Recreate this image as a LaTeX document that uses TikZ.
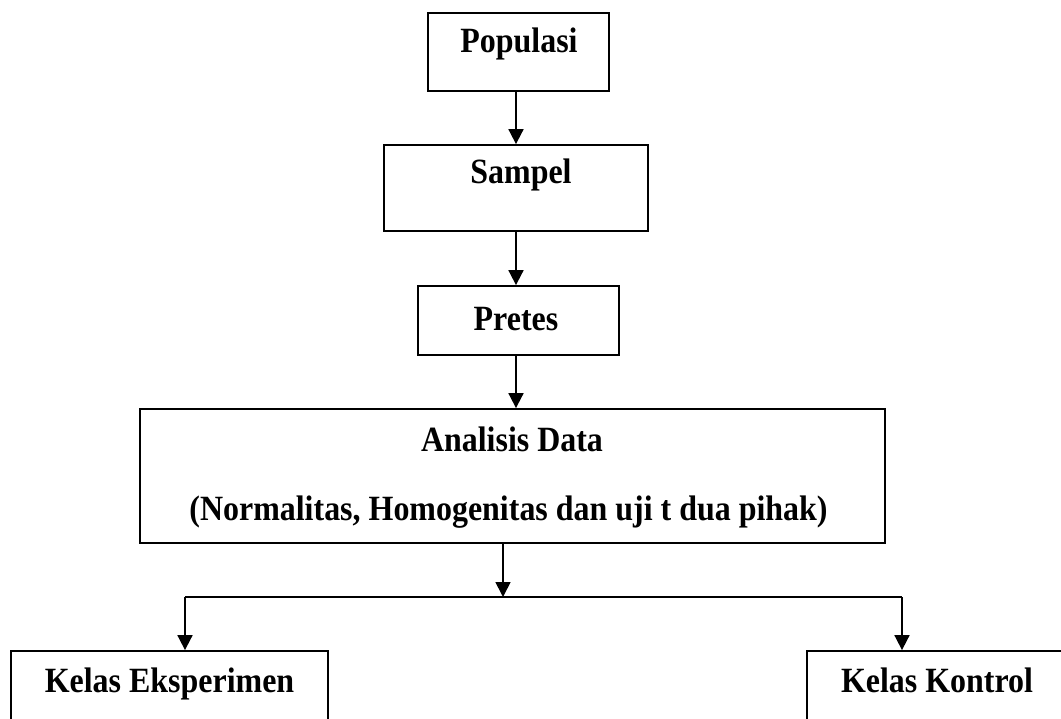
\documentclass[tikz,border=0pt]{standalone}
\usepackage{fontspec}
\setmainfont{Liberation Serif}
\newfontfamily\lblfont[FakeStretch=0.9]{Liberation Serif}
\usetikzlibrary{arrows.meta}
\begin{document}
\begin{tikzpicture}[x=1pt,y=1pt,
  boxnode/.style={draw,line width=1.8pt,rectangle,inner sep=0pt},
  lbl/.style={font=\lblfont\fontsize{35.5}{40}\selectfont\bfseries,inner sep=0pt,anchor=base},
  conn/.style={line width=1.8pt},
  arr/.style={line width=1.8pt,-{Triangle[width=15pt,length=15pt]}}]
\useasboundingbox (0,0) rectangle (1061,-719);
\clip (0,0) rectangle (1061,-719);
% boxes
\node[boxnode,minimum width=181pt,minimum height=78pt] (pop) at (518.5,-52) {};
\node[boxnode,minimum width=264pt,minimum height=86pt] (sam) at (516,-188) {};
\node[boxnode,minimum width=201pt,minimum height=69pt] (pre) at (518.5,-320.5) {};
\node[boxnode,minimum width=745pt,minimum height=134pt] (ana) at (512.5,-476) {};
\node[boxnode,minimum width=317pt,minimum height=100pt] (eks) at (169.5,-701) {};
\node[boxnode,minimum width=273pt,minimum height=100pt] (kon) at (943.5,-701) {};
% labels
\node[lbl] (tpop) at (519,-53) {Populasi};
\node[lbl] (tsam) at (521,-184) {Sampel};
\node[lbl] (tpre) at (516,-331) {Pretes};
\node[lbl] (tana) at (512,-451) {Analisis Data};
\node[lbl] (tnor) at (508.5,-520) {(Normalitas, Homogenitas dan uji t dua pihak)};
\node[lbl] (teks) at (169.5,-692) {Kelas Eksperimen};
\node[lbl] (tkon) at (937,-692) {Kelas Kontrol};
% connector coordinates
\coordinate (ax) at (516,0);
\coordinate (split) at (503,-597);
\coordinate (lft) at (185,-597);
\coordinate (rgt) at (902,-597);
% connectors
\draw[arr] (pop.south -| ax) -- (sam.north -| ax);
\draw[arr] (sam.south -| ax) -- (pre.north -| ax);
\draw[arr] (pre.south -| ax) -- (ana.north -| ax);
\draw[arr] (ana.south -| split) -- (split);
\draw[conn] (lft) -- (rgt);
\draw[arr] (lft) -- (lft |- eks.north);
\draw[arr] (rgt) -- (rgt |- kon.north);
\end{tikzpicture}
\end{document}
